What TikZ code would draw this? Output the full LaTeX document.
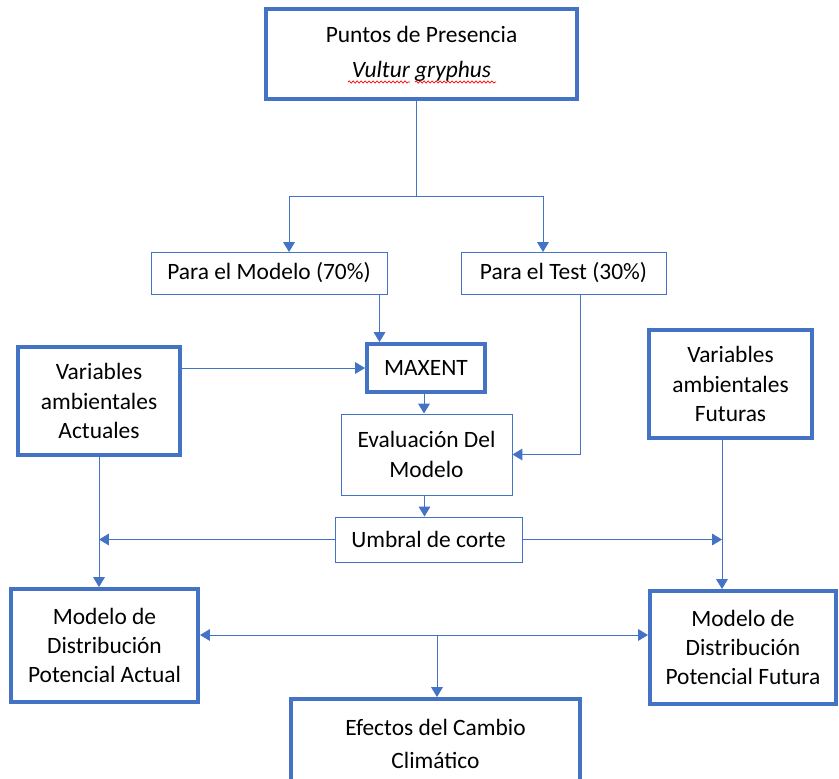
\documentclass[tikz,border=0pt]{standalone}
\usepackage{fontspec}
\setmainfont{Carlito}
\usepackage{tikz}
\usetikzlibrary{arrows.meta, positioning, calc, decorations.pathmorphing}
\definecolor{azul}{HTML}{4472C4}
\tikzset{
    caja/.style={
        rectangle, draw=azul, line width=0.85pt,
        fill=white, inner sep=0pt, align=center,
        font=\fontsize{20}{25}\selectfont
    },
    cajag/.style={
        caja,
        line width=3.4pt
    },
    sz/.style 2 args={minimum width=#1*0.03cm, minimum height=#2*0.03cm},
    linea/.style={draw=azul, line width=0.85pt},
    conn/.style={
        linea,
        -{Triangle[length=8.5pt, width=10pt]},
    },
    conn2/.style={
        linea,
        {Triangle[length=8.5pt, width=10pt]}-{Triangle[length=8.5pt, width=10pt]},
    },
    spell/.style={draw=red, line width=0.6pt, decorate,
        decoration={snake, amplitude=0.9pt, segment length=3.4pt}},
}

\begin{document}
\begin{tikzpicture}
            [x=0.03cm, y=-0.03cm]
            \useasboundingbox (0,0) rectangle (839,778);
            \clip (0,0) rectangle (839,778);
            % Cajas
            \node[cajag, sz={311}{90}] (puntos) at (421.5,54) {Puntos de Presencia\\[5pt]\textit{Vultur gryphus}};
            \node[caja, sz={236}{42}] (modelo) at (269,273) {Para el Modelo (70\%)};
            \node[caja, sz={205}{42}] (test) at (563.5,273) {Para el Test (30\%)};
            \node[cajag, sz={118}{48}] (maxent) at (426,368) {MAXENT};
            \node[cajag, sz={162}{108}] (varact) at (99,401) {Variables\\ambientales\\Actuales};
            \node[cajag, sz={163}{108}] (varfut) at (730.5,384) {Variables\\ambientales\\Futuras};
            \node[caja, sz={171}{81}] (evalua) at (426.5,454.5) {Evaluación Del\\Modelo};
            \node[caja, sz={187}{45}] (umbral) at (428.5,539.5) {Umbral de corte};
            \node[cajag, sz={187}{113}] (modact) at (104.5,645.5) {Modelo de\\Distribución\\Potencial Actual};
            \node[cajag, sz={186}{113}] (modfut) at (743,647.5) {Modelo de\\Distribución\\Potencial Futura};
            \node[cajag, sz={289}{90}] (efectos) at (435.5,744) {Efectos del Cambio\\[3pt]Climático};

            % Subrayado del corrector
            \draw[spell] (348,82) -- (410,82);
            \draw[spell] (415,82) -- (496,82);

            % Conectores
            \coordinate (split) at (416,196);
            \coordinate (aModelo) at (289,252);
            \coordinate (aTest) at (543,252);
            \draw[linea] (split |- puntos.south) -- (split);
            \draw[conn] (split) -| (aModelo);
            \draw[conn] (split) -| (aTest);

            \coordinate (sModelo) at ($(modelo.south east)+(-8,0)$);
            \draw[conn] (sModelo) -- (sModelo |- maxent.north);
            \draw[conn] (varact.east |- maxent.west) -- (maxent.west);
            \coordinate (sMax) at ($(maxent.south)+(-2,0)$);
            \draw[conn] (sMax) -- (sMax |- evalua.north);
            \coordinate (sTest) at ($(test.south)+(16.5,0)$);
            \draw[conn] (sTest) |- (evalua.east);
            \coordinate (sEval) at ($(evalua.south)+(-2,0)$);
            \draw[conn] (sEval) -- (sEval |- umbral.north);

            \coordinate (sFut) at ($(varfut.south)+(-8.5,0)$);
            \draw[conn] (umbral.west) -- (umbral.west -| varact.south);
            \draw[conn] (umbral.east) -- (umbral.east -| sFut);
            \draw[conn] (varact.south) -- (varact.south |- modact.north);
            \draw[conn] (sFut) -- (sFut |- modfut.north);

            \coordinate (mid) at (437,635);
            \draw[conn2] (modact.east |- mid) -- (mid -| modfut.west);
            \draw[conn] (mid) -- (mid |- efectos.north);

        \end{tikzpicture}
\end{document}
